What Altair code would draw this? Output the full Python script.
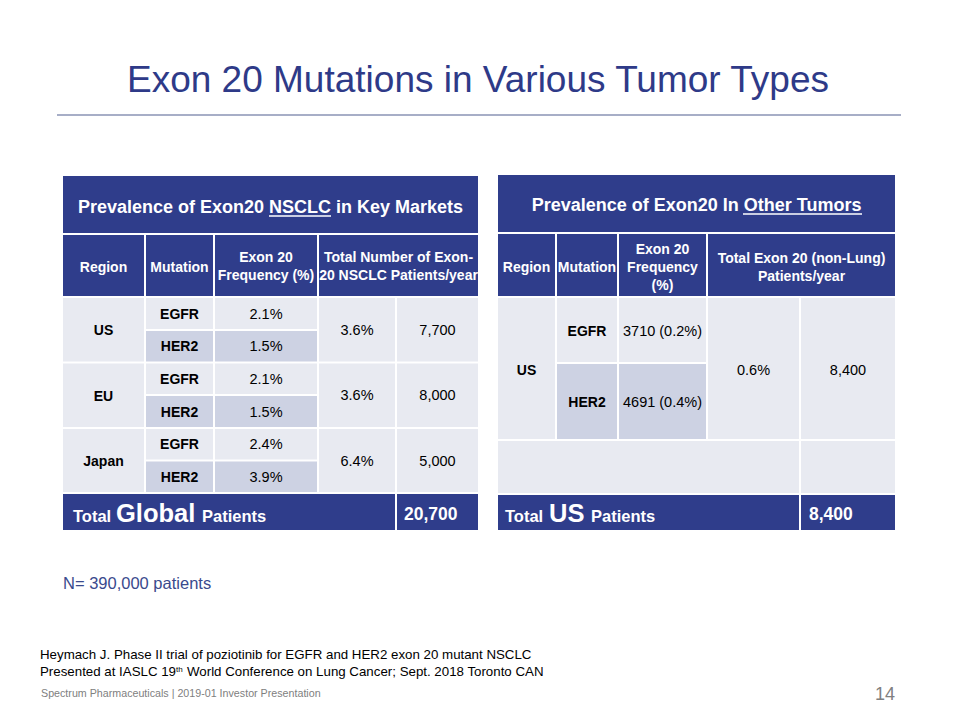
import altair as alt
import pandas as pd

# ---------------- data ----------------
slide_title = "Exon 20 Mutations in Various Tumor Types"

nsclc_title = "Prevalence of Exon20 NSCLC in Key Markets"
nsclc_header_lines = [["Region"], ["Mutation"], ["Exon 20", "Frequency (%)"],
                      ["Total  Number of Exon-", "20 NSCLC Patients/year"]]
nsclc_regions = ["US", "EU", "Japan"]
nsclc_mutations = ["EGFR", "HER2"]
nsclc_freq_pct = [[2.1, 1.5], [2.1, 1.5], [2.4, 3.9]]
nsclc_total_pct = [3.6, 3.6, 6.4]
nsclc_patients = [7700, 8000, 5000]
nsclc_total_label = ["Total", "Global", "Patients"]
nsclc_global_total = 20700

other_title = "Prevalence of Exon20 In Other Tumors"
other_header_lines = [["Region"], ["Mutation"], ["Exon 20", "Frequency", "(%)"],
                      ["Total Exon 20 (non-Lung)", "Patients/year"]]
other_region = "US"
other_mutations = ["EGFR", "HER2"]
other_counts = [3710, 4691]
other_freq_pct = [0.2, 0.4]
other_total_pct = 0.6
other_patients = 8400
other_total_label = ["Total", "US", "Patients"]
other_us_total = 8400

n_patients = 390000
citation_line1 = "Heymach J. Phase II trial of poziotinib for EGFR and HER2 exon 20 mutant NSCLC"
citation_line2 = ["Presented at IASLC 19", "th", "World Conference on Lung Cancer; Sept. 2018 Toronto CAN"]
footer_text = "Spectrum Pharmaceuticals | 2019-01 Investor Presentation"
page_number = "14"

# ---------------- layout / style ----------------
DARK = "#2F3D8B"
LIGHT = "#E8EAF1"
MID = "#CDD2E3"
TITLE_BLUE = "#2E3A88"
NOTE_BLUE = "#3A4A8D"
FONT = "Liberation Sans"

L_COLS = [62, 145, 214, 318, 396, 479]
L_ROWS = [175, 234, 297, 330, 362.5, 395, 428, 460.5, 493, 531]
R_COLS = [497, 556, 618, 707, 800, 896]
R_ROWS = [174, 233, 297, 363, 440, 494, 531]

cells = []
texts = []


def cell(x0, x1, y0, y1, fill, g=1.0):
    cells.append(dict(x=x0 + g, x2=x1 - g, y=y0 + g, y2=y1 - g, fill=fill))


def txt(x, y, s, size, color="#000000", weight="normal", align="center"):
    texts.append(dict(x=x, y=y, text=s, size=size, color=color, weight=weight, align=align))


def mid(a, b):
    return (a + b) / 2.0


# ---- slide title
txt(478, 92, slide_title, 37, TITLE_BLUE)

# ---- left table
C, R = L_COLS, L_ROWS
cell(C[0], C[5], R[0], R[1], DARK)
txt(mid(C[0], C[5]), 213, nsclc_title, 18, "white", "bold")
hdr_spans = [(C[0], C[1]), (C[1], C[2]), (C[2], C[3]), (C[3], C[5])]
for (a, b), lines in zip(hdr_spans, nsclc_header_lines):
    cell(a, b, R[1], R[2], DARK)
    ys = [272] if len(lines) == 1 else [262, 280]
    for yy, s in zip(ys, lines):
        txt(mid(a, b), yy, s, 14, "white", "bold")
for i, reg in enumerate(nsclc_regions):
    top, midr, bot = R[2 + 2 * i], R[3 + 2 * i], R[4 + 2 * i]
    cell(C[0], C[1], top, bot, LIGHT)
    txt(mid(C[0], C[1]), mid(top, bot) + 5.5, reg, 14, weight="bold")
    for j, mut in enumerate(nsclc_mutations):
        y0, y1 = (top, midr) if j == 0 else (midr, bot)
        fill = LIGHT if j == 0 else MID
        cell(C[1], C[2], y0, y1, fill)
        cell(C[2], C[3], y0, y1, fill)
        txt(mid(C[1], C[2]), mid(y0, y1) + 5, mut, 14, weight="bold")
        txt(mid(C[2], C[3]), mid(y0, y1) + 5, f"{nsclc_freq_pct[i][j]:.1f}%", 14.5)
    cell(C[3], C[4], top, bot, LIGHT)
    cell(C[4], C[5], top, bot, LIGHT)
    txt(mid(C[3], C[4]), mid(top, bot) + 5, f"{nsclc_total_pct[i]:.1f}%", 14.5)
    txt(mid(C[4], C[5]), mid(top, bot) + 5, f"{nsclc_patients[i]:,}", 14.5)
cell(C[0], C[4], R[8], R[9], DARK)
cell(C[4], C[5], R[8], R[9], DARK)
txt(73, 522, nsclc_total_label[0], 16.5, "white", "bold", "left")
txt(116, 522, nsclc_total_label[1], 25.5, "white", "bold", "left")
txt(202, 522, nsclc_total_label[2], 16.5, "white", "bold", "left")
txt(404, 520, f"{nsclc_global_total:,}", 17.5, "white", "bold", "left")

# ---- right table
C, R = R_COLS, R_ROWS
cell(C[0], C[5], R[0], R[1], DARK)
txt(mid(C[0], C[5]), 211, other_title, 18, "white", "bold")
hdr_spans = [(C[0], C[1]), (C[1], C[2]), (C[2], C[3]), (C[3], C[5])]
for (a, b), lines in zip(hdr_spans, other_header_lines):
    cell(a, b, R[1], R[2], DARK)
    ys = {1: [272], 2: [263, 281], 3: [254, 272, 290]}[len(lines)]
    for yy, s in zip(ys, lines):
        txt(mid(a, b), yy, s, 14, "white", "bold")
cell(C[0], C[1], R[2], R[4], LIGHT)
txt(mid(C[0], C[1]), mid(R[2], R[4]) + 6, other_region, 14, weight="bold")
for j, mut in enumerate(other_mutations):
    y0, y1 = R[2 + j], R[3 + j]
    fill = LIGHT if j == 0 else MID
    cell(C[1], C[2], y0, y1, fill)
    cell(C[2], C[3], y0, y1, fill)
    txt(mid(C[1], C[2]), mid(y0, y1) + 5.5, mut, 14, weight="bold")
    txt(mid(C[2], C[3]), mid(y0, y1) + 5.5,
        f"{other_counts[j]} ({other_freq_pct[j]:.1f}%)", 14.5)
cell(C[3], C[4], R[2], R[4], LIGHT)
cell(C[4], C[5], R[2], R[4], LIGHT)
txt(mid(C[3], C[4]), mid(R[2], R[4]) + 6, f"{other_total_pct:.1f}%", 14.5)
txt(mid(C[4], C[5]), mid(R[2], R[4]) + 6, f"{other_patients:,}", 14.5)
cell(C[0], C[4], R[4], R[5], LIGHT)
cell(C[4], C[5], R[4], R[5], LIGHT)
cell(C[0], C[4], R[5], R[6], DARK)
cell(C[4], C[5], R[5], R[6], DARK)
txt(505, 522, other_total_label[0], 16.5, "white", "bold", "left")
txt(549, 522, other_total_label[1], 25.5, "white", "bold", "left")
txt(591, 522, other_total_label[2], 16.5, "white", "bold", "left")
txt(809, 520, f"{other_us_total:,}", 17.5, "white", "bold", "left")

# ---- notes / footer
txt(63, 589, f"N= {n_patients:,} patients", 16.5, NOTE_BLUE, align="left")
txt(40, 659, citation_line1, 13.3, align="left")
txt(40, 676, citation_line2[0], 13.3, align="left")
txt(176, 671.5, citation_line2[1], 8, align="left")
txt(187, 676, citation_line2[2], 13.3, align="left")
txt(41, 697, footer_text, 10.7, "#808080", align="left")
txt(895, 700, page_number, 18, "#808080", align="right")

rules = pd.DataFrame([
    dict(x=57, x2=901, y=115, w=1.5, color="#8A93B5"),
    dict(x=269, x2=331, y=216, w=1.3, color="white"),
    dict(x=743, x2=862, y=214, w=1.3, color="white"),
])

# ---------------- chart ----------------
X = alt.X("x:Q", scale=alt.Scale(domain=[8, 952], nice=False, zero=False), axis=None)
Y = alt.Y("y:Q", scale=alt.Scale(domain=[8, 712], nice=False, zero=False, reverse=True), axis=None)

cells_df = pd.DataFrame(cells)
rect_layer = alt.Chart(cells_df).mark_rect(strokeWidth=0).encode(
    x=X, x2="x2:Q", y=Y, y2="y2:Q",
    color=alt.Color("fill:N", scale=None),
)
rule_layer = alt.Chart(rules).mark_rule().encode(
    x=X, x2="x2:Q", y=Y,
    color=alt.Color("color:N", scale=None),
    size=alt.Size("w:Q", scale=None),
)

texts_df = pd.DataFrame(texts)
text_layers = []
for (weight, align), grp in texts_df.groupby(["weight", "align"]):
    text_layers.append(
        alt.Chart(grp.reset_index(drop=True)).mark_text(
            font=FONT, fontWeight=weight, align=align, baseline="alphabetic"
        ).encode(
            x=X, y=Y, text="text:N",
            size=alt.Size("size:Q", scale=None),
            color=alt.Color("color:N", scale=None),
        )
    )

chart = alt.layer(rect_layer, rule_layer, *text_layers).properties(
    width=944, height=704, padding=0,
    autosize=alt.AutoSizeParams(type="none"),
    background="white",
).configure_view(stroke=None)

chart.save("out.html", embed_options={"renderer": "svg", "actions": False})
